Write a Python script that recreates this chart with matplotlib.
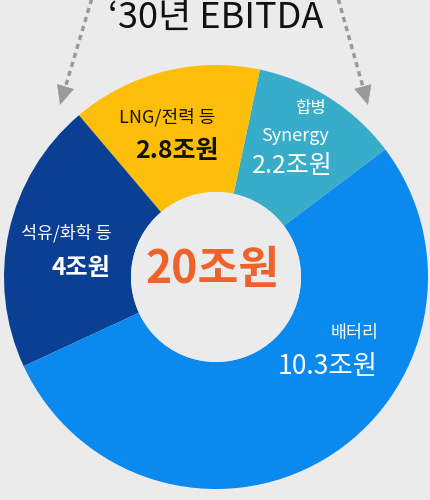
import matplotlib
matplotlib.use("Agg")
import matplotlib.pyplot as plt
from matplotlib.patches import FancyArrowPatch

plt.rcParams['font.family'] = ['Noto Sans CJK KR', 'DejaVu Sans']

# segments, counter-clockwise from the teal one
segment_names = ['합병 Synergy', 'LNG/전력 등', '석유/화학 등', '배터리']
segment_values = [2.2, 2.8, 4.0, 10.3]
segment_colors = ['#37adc9', '#fdbe0a', '#0b3f93', '#0a89ee']
total_label = '20조원'
title_text = '\u201830년 EBITDA'

bg = '#ebebeb'
W, H = 430, 500

fig = plt.figure(figsize=(W / 100, H / 100), dpi=100, facecolor=bg)
ax = fig.add_axes([0, 0, 1, 1])
ax.set_facecolor(bg)

cx, cy, R = 216, H - 277, 212
ax.pie(segment_values, colors=segment_colors, startangle=37, counterclock=True,
       center=(cx, cy), radius=R, wedgeprops=dict(width=R - 85, linewidth=0))
ax.add_patch(plt.Circle((cx, cy), 85, color=bg, lw=0))

ax.set_xlim(0, W)
ax.set_ylim(0, H)
ax.set_aspect('equal')
ax.axis('off')

def y(py):
    return H - py

# title
ax.text(216, y(18), title_text, ha='center', va='center', fontsize=26,
        color='#111111')

# dotted arrows: dashed shaft + solid head
for x0, x1 in [(92, 60), (338, 368)]:
    t = 0.88
    xm, ym = x0 + (x1 - x0) * t, -2 + (105 + 2) * t
    ax.plot([x0, xm], [y(-2), y(ym)], color='#9a9a9a', lw=2.5,
            linestyle=(0, (1.5, 1.2)), solid_capstyle='butt')
    head = FancyArrowPatch((xm, y(ym)), (x1, y(105)),
                           arrowstyle='-|>,head_length=13,head_width=6',
                           color='#9a9a9a', lw=0.5, mutation_scale=1,
                           shrinkA=0, shrinkB=0)
    ax.add_patch(head)

# center total
ax.text(213, y(270), total_label, ha='center', va='center', fontsize=32,
        fontweight='bold', color='#f0622c')

# segment labels
ax.text(167, y(117), 'LNG/전력 등', ha='center', va='center', fontsize=13, color='#111111')
ax.text(177, y(151), f'{segment_values[1]:g}조원', ha='center', va='center', fontsize=18,
        fontweight='bold', color='#111111')

ax.text(310, y(108), '합병', ha='center', va='center', fontsize=12, color='white')
ax.text(295, y(136), 'Synergy', ha='center', va='center', fontsize=13, color='white')
ax.text(292, y(166), f'{segment_values[0]:g}조원', ha='center', va='center', fontsize=18,
        color='white')

ax.text(66, y(233), '석유/화학 등', ha='center', va='center', fontsize=12.5, color='white')
ax.text(81, y(268), f'{segment_values[2]:g}조원', ha='center', va='center', fontsize=17.5,
        fontweight='bold', color='white')

ax.text(355, y(333), '배터리', ha='center', va='center', fontsize=12.5, color='white')
ax.text(328, y(366), f'{segment_values[3]:g}조원', ha='center', va='center', fontsize=19,
        color='white')

fig.savefig('out.png', dpi=100, facecolor=bg)
